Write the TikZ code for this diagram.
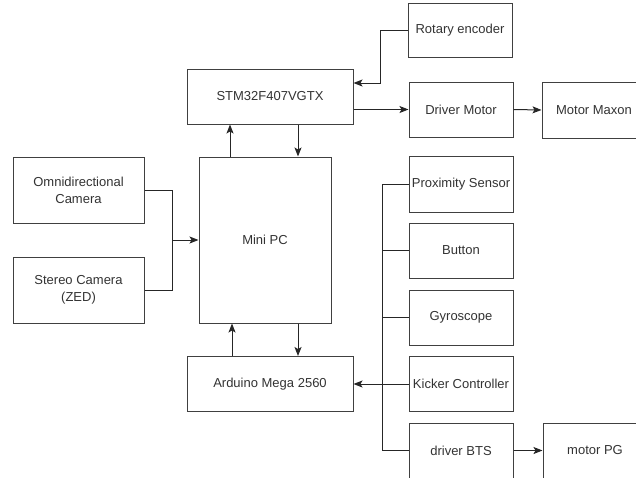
\documentclass[tikz,border=0pt]{standalone}
\usepackage{fontspec}
\setmainfont{Liberation Sans}
\usetikzlibrary{arrows.meta}
\begin{document}
\begin{tikzpicture}[x=1pt,y=-1pt,
  box/.style={draw=black!75, line width=1pt, fill=white, inner sep=0pt, align=center,
              text=black!80, font=\fontsize{13}{17}\selectfont},
  conn/.style={line width=1pt, draw=black!85},
  arr/.style={conn, -{Stealth[length=9pt,width=7pt,inset=2pt]}}]
\useasboundingbox (0,0) rectangle (636,477);
\clip (0,0) rectangle (636,477);
% boxes
\node[box, minimum width=104pt, minimum height=54pt] (rot) at (460,30) {Rotary encoder};
\node[box, minimum width=166pt, minimum height=55pt] (stm) at (270,96.5) {STM32F407VGTX};
\node[box, minimum width=104pt, minimum height=55pt] (drv) at (461,109.5) {Driver Motor};
\node[box, minimum width=104pt, minimum height=56pt] (max) at (594,110) {Motor Maxon};
\node[box, minimum width=131pt, minimum height=66pt] (omni) at (78.5,190) {Omnidirectional\\Camera};
\node[box, minimum width=131pt, minimum height=66pt] (zed) at (78.5,290) {Stereo Camera\\(ZED)};
\node[box, minimum width=132pt, minimum height=166pt] (pc) at (265,240) {Mini PC};
\node[box, minimum width=104pt, minimum height=56pt] (prox) at (461,184) {Proximity Sensor};
\node[box, minimum width=104pt, minimum height=55pt] (btn) at (461,250.5) {Button};
\node[box, minimum width=104pt, minimum height=55pt] (gyro) at (461,317.5) {Gyroscope};
\node[box, minimum width=104pt, minimum height=55pt] (kick) at (461,384) {Kicker Controller};
\node[box, minimum width=104pt, minimum height=55pt] (bts) at (461,450.5) {driver BTS};
\node[box, minimum width=104pt, minimum height=55pt] (pg) at (595,450.5) {motor PG};
\node[box, minimum width=166pt, minimum height=55pt] (ard) at (270,384) {Arduino Mega 2560};
% helper coordinates
\coordinate (xr) at (380,0);
\coordinate (xu) at (230,0);
\coordinate (xd) at (298,0);
\coordinate (xu2) at (232,0);
\coordinate (cj) at (172,240);
\coordinate (bx) at (382,0);
\coordinate (ry) at (0,83);
% connectors
\draw[arr] (rot.west) -- (xr |- rot.west) -- (xr |- ry) -- (stm.east |- ry);
\draw[arr] (stm.east |- drv.west) -- (drv.west);
\draw[arr] (drv.east) -- (max.west);
\draw[arr] (xu |- pc.north) -- (xu |- stm.south);
\draw[arr] (xd |- stm.south) -- (xd |- pc.north);
\draw[arr] (xu2 |- ard.north) -- (xu2 |- pc.south);
\draw[arr] (xd |- pc.south) -- (xd |- ard.north);
\draw[conn] (omni.east) -| (cj);
\draw[conn] (zed.east) -| (cj);
\draw[arr] (cj) -- (pc.west);
\draw[conn] (prox.west) -- (bx |- prox.west) -- (bx |- bts.west) -- (bts.west);
\draw[conn] (btn.west) -- (bx |- btn.west);
\draw[conn] (gyro.west) -- (bx |- gyro.west);
\draw[arr] (kick.west) -- (ard.east);
\draw[arr] (bts.east) -- (pg.west);
\end{tikzpicture}
\end{document}
